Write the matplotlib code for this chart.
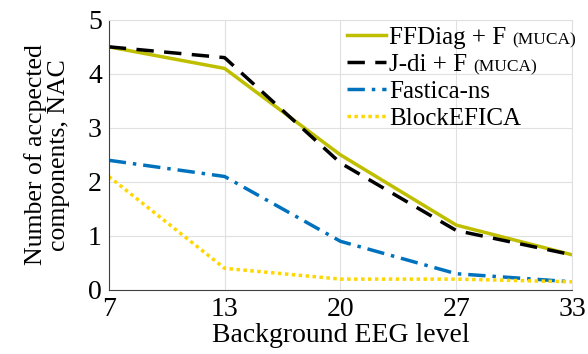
import numpy as np
import matplotlib.pyplot as plt

plt.rcParams['font.family'] = ['Liberation Serif', 'DejaVu Serif']

levels = ['7', '13', '20', '27', '33']
ffdiag = [4.5, 4.1, 2.5, 1.2, 0.65]
jdi = [4.5, 4.3, 2.35, 1.1, 0.65]
fastica = [2.4, 2.1, 0.9, 0.3, 0.15]
blockefica = [2.1, 0.4, 0.2, 0.2, 0.15]

x = np.arange(len(levels))

fig = plt.figure(figsize=(5.88, 3.54), dpi=100)
ax = fig.add_axes([0.185, 0.181, 0.788, 0.763])

ax.plot(x, ffdiag, color='#BFBF00', lw=2.5, linestyle='-', label='FFDiag + F')
ax.plot(x, jdi, color='black', lw=2.5, linestyle=(0, (5, 3)), label='J-di + F')
ax.plot(x, fastica, color='#0072BD', lw=2.5, linestyle=(0, (5, 2, 1, 2)), label='Fastica-ns')
ax.plot(x, blockefica, color='#FFD700', lw=2.5, linestyle=(0, (1, 1)), label='BlockEFICA')

ax.set_xlim(0, 4)
ax.set_ylim(0, 5)
ax.set_xticks(x)
ax.set_xticklabels(levels)
ax.set_yticks([0, 1, 2, 3, 4, 5])
ax.tick_params(labelsize=20, length=0, pad=5)
ax.grid(True, color='#E0E0E0', lw=0.8)
ax.set_axisbelow(True)
for s in ['top', 'right']:
    ax.spines[s].set_color('#E0E0E0')
for s in ['left', 'bottom']:
    ax.spines[s].set_color('#404040')

ax.set_xlabel('Background EEG level', fontsize=20, labelpad=1)
ax.set_ylabel('Number of accpected\ncomponents, NAC', fontsize=18.5, labelpad=13,
              linespacing=1.05)

leg = fig.legend(loc='upper left', bbox_to_anchor=(0.59, 0.925), frameon=False,
                 fontsize=18, handlelength=1.55, handletextpad=0.15,
                 labelspacing=0.18, borderaxespad=0.0, borderpad=0.0)

# smaller "(MUCA)" suffix after the first two entries
fig.canvas.draw()
renderer = fig.canvas.get_renderer()
inv = fig.transFigure.inverted()
for t in leg.get_texts()[:2]:
    bb = t.get_window_extent(renderer)
    x0, y0 = inv.transform((bb.x1 + 6, bb.y0 + 5))
    fig.text(x0, y0, '(MUCA)', fontsize=12.5, va='baseline', ha='left')

fig.savefig('out.png', dpi=100)
